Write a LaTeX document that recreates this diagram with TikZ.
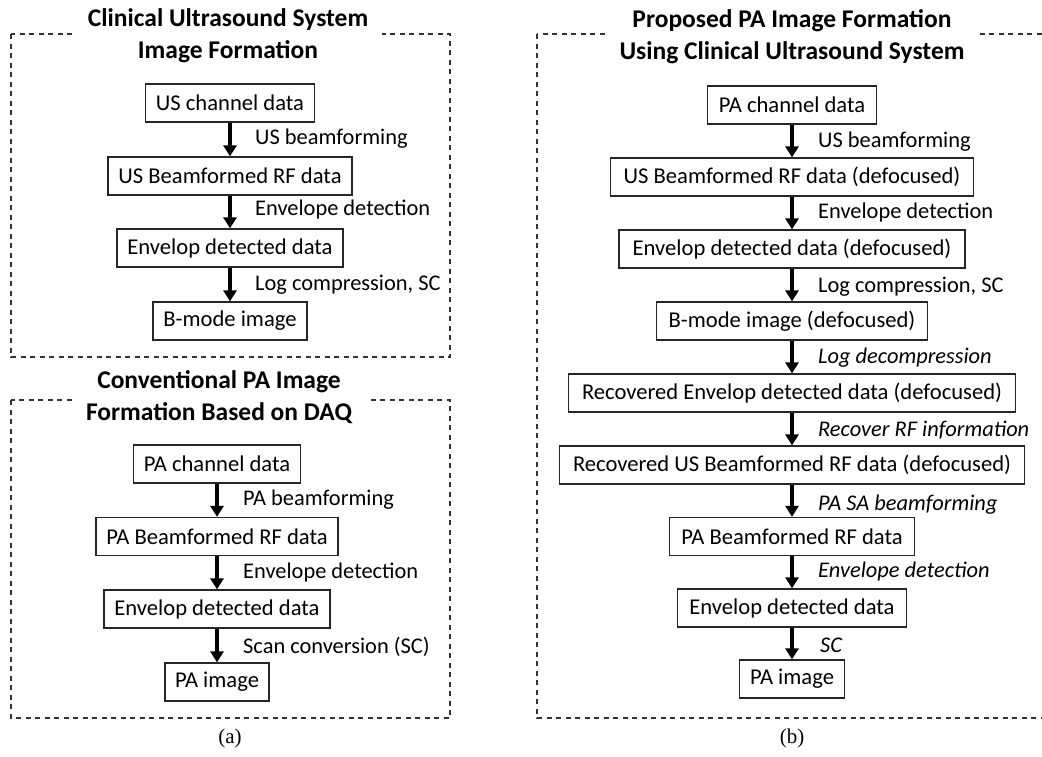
\documentclass[tikz,border=0pt]{standalone}
\usepackage{fontspec}
\setmainfont{Carlito}
\newfontfamily\capfont{Liberation Serif}
\usetikzlibrary{arrows.meta}
\begin{document}
\begin{tikzpicture}[x=1pt,y=-1pt,
  panel/.style={draw=black!80, line width=1.3pt, dash pattern=on 5pt off 4.5pt},
  stepbox/.style={draw=black!85, line width=1.3pt, minimum height=38pt, inner xsep=10pt, inner ysep=0pt, font=\fontsize{22.6}{26}\selectfont},
  lbl/.style={anchor=west, inner sep=0pt, font=\fontsize{22.4}{26}\selectfont},
  ilbl/.style={lbl, font=\fontsize{22.4}{26}\selectfont\itshape},
  ttl/.style={fill=white, align=center, inner xsep=14pt, inner ysep=3pt, font=\fontsize{25.5}{32}\selectfont\bfseries},
  flow/.style={line width=3.5pt, -{Triangle[width=13pt,length=11pt]}},
  sub/.style={font=\fontsize{21}{24}\selectfont\capfont}
]
\clip (0,0) rectangle (1042,756);
\useasboundingbox (0,0) rectangle (1042,756);
\fill[white] (0,0) rectangle (1042,756);

% panels
\draw[panel] (11,34) rectangle (450,357);
\draw[panel] (11,400) rectangle (450,718);
\draw[panel] (537,34) rectangle (1060,718);

% titles
\node[ttl] (t1) at (228,36) {Clinical Ultrasound System\\Image Formation};
\node[ttl] (t2) at (219,397) {Conventional PA Image\\Formation Based on DAQ};
\node[ttl] (t3) at (792,37) {Proposed PA Image Formation\\Using Clinical Ultrasound System};

% panel (a) top
\node[stepbox, minimum width=169pt] (a1) at (230,103) {US channel data};
\node[stepbox, minimum width=244pt] (a2) at (230,176) {US Beamformed RF data};
\node[stepbox, minimum width=226pt] (a3) at (230,248) {Envelop detected data};
\node[stepbox, minimum width=154pt] (a4) at (230,321) {B-mode image};
\draw[flow] (a1) -- (a2);
\draw[flow] (a2) -- (a3);
\draw[flow] (a3) -- (a4);
\node[lbl] (la1) at (255,139) {US beamforming};
\node[lbl] (la2) at (255,210) {Envelope detection};
\node[lbl] (la3) at (255,285) {Log compression, SC};

% panel (a) bottom
\node[stepbox, minimum width=166pt] (c1) at (217,464) {PA channel data};
\node[stepbox, minimum width=242pt] (c2) at (217,536.5) {PA Beamformed RF data};
\node[stepbox, minimum width=226pt] (c3) at (217,609) {Envelop detected data};
\node[stepbox, minimum width=104pt] (c4) at (217,682) {PA image};
\draw[flow] (c1) -- (c2);
\draw[flow] (c2) -- (c3);
\draw[flow] (c3) -- (c4);
\node[lbl] (lc1) at (243,500) {PA beamforming};
\node[lbl] (lc2) at (243,573) {Envelope detection};
\node[lbl] (lc3) at (243,647) {Scan conversion (SC)};

% panel (b)
\node[stepbox, minimum width=169pt] (b1) at (792,105) {PA channel data};
\node[stepbox, minimum width=363pt] (b2) at (792,177) {US Beamformed RF data (defocused)};
\node[stepbox, minimum width=346pt] (b3) at (792,249) {Envelop detected data (defocused)};
\node[stepbox, minimum width=271pt] (b4) at (792,321) {B-mode image (defocused)};
\node[stepbox, minimum width=447pt] (b5) at (792,393) {Recovered Envelop detected data (defocused)};
\node[stepbox, minimum width=465pt] (b6) at (792,465) {Recovered US Beamformed RF data (defocused)};
\node[stepbox, minimum width=245pt] (b7) at (792,536.5) {PA Beamformed RF data};
\node[stepbox, minimum width=229pt] (b8) at (792,608) {Envelop detected data};
\node[stepbox, minimum width=105pt] (b9) at (792,679) {PA image};
\foreach \p/\q in {b1/b2,b2/b3,b3/b4,b4/b5,b5/b6,b6/b7,b7/b8,b8/b9}
  \draw[flow] (\p) -- (\q);
\node[lbl] (lb1) at (818,142) {US beamforming};
\node[lbl] (lb2) at (818,213) {Envelope detection};
\node[lbl] (lb3) at (818,287) {Log compression, SC};
\node[ilbl] (lb4) at (818,358) {Log decompression};
\node[ilbl] (lb5) at (818,430) {Recover RF information};
\node[ilbl] (lb6) at (818,505) {PA SA beamforming};
\node[ilbl] (lb7) at (818,572) {Envelope detection};
\node[ilbl] (lb8) at (820,645) {SC};

% captions
\node[sub] (capa) at (230,738) {(a)};
\node[sub] (capb) at (792,738) {(b)};
\end{tikzpicture}
\end{document}
